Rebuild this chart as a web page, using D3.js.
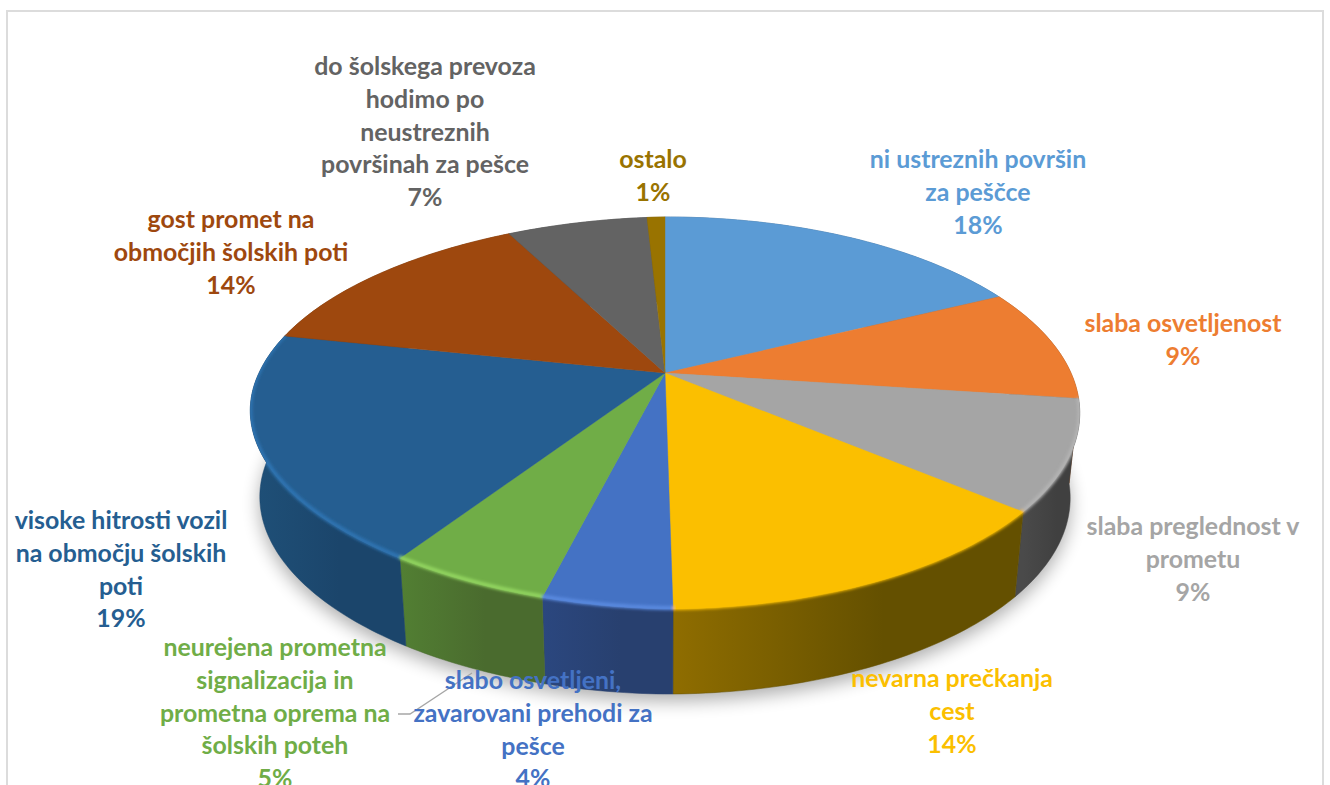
<!DOCTYPE html>
<html>
<head>
<meta charset="utf-8">
<script src="https://cdn.jsdelivr.net/npm/d3@7"></script>
<style>
  html, body { margin: 0; padding: 0; background: #fff; overflow: hidden; }
  svg { display: block; }
  text { font-family: Lato, "Open Sans", sans-serif; font-weight: 700; font-size: 24.9px; text-anchor: middle; }
</style>
</head>
<body>
<div id="chart"></div>
<script>
const categories = [
  ["ni ustreznih površin", "za peščce"],
  ["slaba osvetljenost"],
  ["slaba preglednost v", "prometu"],
  ["nevarna prečkanja", "cest"],
  ["slabo osvetljeni,", "zavarovani prehodi za", "pešce"],
  ["neurejena prometna", "signalizacija in", "prometna oprema na", "šolskih poteh"],
  ["visoke hitrosti vozil", "na območju šolskih", "poti"],
  ["gost promet na", "območjih šolskih poti"],
  ["do šolskega prevoza", "hodimo po", "neustreznih", "površinah za pešce"],
  ["ostalo"],
];
const shares = [17.7, 9.4, 9.0, 13.65, 4.15, 5.2, 19.3, 14.1, 6.65, 0.85];
const percentLabels = ["18%", "9%", "9%", "14%", "4%", "5%", "19%", "14%", "7%", "1%"];

const colors = ["#5b9bd5", "#ed7d31", "#a5a5a5", "#fbbf00", "#4472c4", "#70ad47", "#255e91", "#9e480e", "#636363", "#997300"];
const sideLeft = ["#3b6a94", "#8f4a1c", "#4a4a4a", "#8f6d00", "#2b477f", "#527f33", "#1f5078", "#6d3209", "#444444", "#6a5000"];
const sideRight = ["#3b6a94", "#8f4a1c", "#404040", "#645000", "#28406f", "#4a6b2e", "#1b456b", "#6d3209", "#444444", "#6a5000"];
const rimColors = ["#5b9bd5", "#ed7d31", "#b4b4b4", "#fbbf00", "#5a8ae0", "#93d660", "#2d74b3", "#9e480e", "#636363", "#997300"];

// label centre x, first baseline
const labelX = [978, 1183, 1193, 952, 533, 275, 121, 231, 425, 653];
const labelY = [168, 332, 535, 687, 689, 656, 529, 228, 75, 168];
const lineStep = 32.8;

const width = 1330, height = 785;
const cx = 665, cy = 373;

const svg = d3.select("#chart").append("svg")
  .attr("width", width)
  .attr("height", height);

const defs = svg.append("defs");
defs.append("filter").attr("id", "shadow")
  .attr("x", "-10%").attr("y", "-20%").attr("width", "120%").attr("height", "140%")
  .append("feGaussianBlur").attr("stdDeviation", 9);
defs.append("filter").attr("id", "soft")
  .attr("filterUnits", "userSpaceOnUse")
  .attr("x", 0).attr("y", 0).attr("width", width).attr("height", height)
  .append("feGaussianBlur").attr("stdDeviation", 1.6);

// frame, open at the bottom
svg.append("path")
  .attr("d", d3.line()([[7, height], [7, 11], [1323, 11], [1323, height]]))
  .attr("fill", "none")
  .attr("stroke", "#dcdcdc")
  .attr("stroke-width", 2);

// tilted circle seen in perspective: the pie's centre is not the ellipse's centre
const k = 0.204, ax = 406, ay = 187.9;
const zDrop = 85, zShrink = 0.977;
// the left half of the reference rim is a bit flatter than a true ellipse
const flatFront = 6, flatBack = 3;

function project(angle, z) {
  const X = Math.sin(angle), Y = -Math.cos(angle);
  const w = 1 - k * Y;
  const s = z ? zShrink : 1;
  const dx = ax * X / w;
  const flat = X < 0 ? (Y > 0 ? -flatFront : flatBack) * Math.abs(2 * X * Y) : 0;
  return [cx + s * dx, cy + ay * Y / w + (z ? flat / 2 + zDrop : flat)];
}

const pie = d3.pie().sort(null).value(d => d).startAngle(0).endAngle(2 * Math.PI);
const arcs = pie(shares);
const line = d3.line();

function rim(d, z) {
  const n = Math.max(4, Math.ceil((d.endAngle - d.startAngle) * 60));
  const a = d3.scaleLinear().domain([0, n]).range([d.startAngle, d.endAngle]);
  return d3.range(n + 1).map(i => project(a(i), z));
}

const wallPath = d => line(rim(d, false).concat(rim(d, true).reverse())) + "Z";
const topPath = d => line([[cx, cy]].concat(rim(d, false))) + "Z";

// soft shadow under the whole pie
svg.append("path")
  .attr("d", line(d3.range(0, 361, 3).map(a => project(a * Math.PI / 180, true))) + "Z")
  .attr("transform", "translate(0,7)")
  .attr("fill", "#000")
  .attr("opacity", 0.32)
  .attr("filter", "url(#shadow)");

arcs.forEach((d, i) => {
  const grad = defs.append("linearGradient").attr("id", `side${i}`)
    .attr("gradientUnits", "userSpaceOnUse")
    .attr("x1", d3.min(rim(d, false), p => p[0])).attr("x2", d3.max(rim(d, false), p => p[0]))
    .attr("y1", 0).attr("y2", 0);
  grad.append("stop").attr("offset", 0).attr("stop-color", sideLeft[i]);
  grad.append("stop").attr("offset", 0.6).attr("stop-color", sideRight[i]);
});

// outer wall
svg.append("g").selectAll("path")
  .data(arcs)
  .join("path")
  .attr("d", wallPath)
  .attr("fill", (d, i) => `url(#side${i})`)
  .attr("stroke", (d, i) => sideRight[i])
  .attr("stroke-width", 0.5);

// top face
svg.append("g").selectAll("path")
  .data(arcs)
  .join("path")
  .attr("d", topPath)
  .attr("fill", (d, i) => colors[i])
  .attr("stroke", (d, i) => colors[i])
  .attr("stroke-width", 0.4);

// bevel along the rim, kept inside the pie's outline
defs.append("clipPath").attr("id", "pieClip")
  .selectAll("path")
  .data(arcs)
  .join("path")
  .attr("d", d => wallPath(d) + topPath(d));

svg.append("g").attr("clip-path", "url(#pieClip)")
  .append("g").attr("filter", "url(#soft)").selectAll("path")
  .data(arcs.filter(d => d.index >= 2 && d.index <= 6))
  .join("path")
  .attr("d", d => line(rim(d, false).map(p => [p[0], p[1] - 1])))
  .attr("fill", "none")
  .attr("stroke", d => rimColors[d.index])
  .attr("stroke-width", 4);

// leader of the green label
svg.append("path")
  .attr("d", d3.line()([[398, 714], [410, 714], [472, 673]]))
  .attr("fill", "none")
  .attr("stroke", "#a6a6a6")
  .attr("stroke-width", 1.3);

const labels = svg.append("g").selectAll("text")
  .data(categories.map((c, i) => ({lines: c.concat(percentLabels[i]), i})))
  .join("text")
  .attr("fill", d => colors[d.i]);

labels.selectAll("tspan")
  .data(d => d.lines.map((t, j) => ({t, x: labelX[d.i], y: labelY[d.i] + j * lineStep})))
  .join("tspan")
  .attr("x", d => d.x)
  .attr("y", d => d.y)
  .text(d => d.t);
</script>
</body>
</html>
